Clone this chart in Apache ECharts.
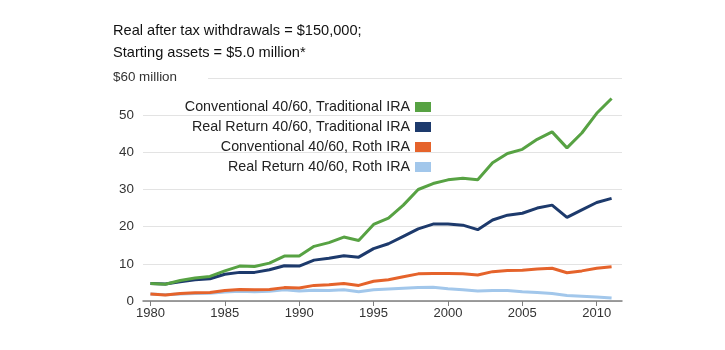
<!DOCTYPE html>
<html>
<head>
<meta charset="utf-8">
<script src="https://cdn.jsdelivr.net/npm/echarts@6/dist/echarts.min.js"></script>
<style>html,body{margin:0;padding:0;background:#fff}#c{width:725px;height:350px}</style>
</head>
<body>
<div id="c"></div>
<script>
var years = [];
for (var y = 1980; y <= 2011; y++) years.push(y);
var xTickLabels = [1980, 1985, 1990, 1995, 2000, 2005, 2010];
var seriesNames = [
  'Conventional 40/60, Traditional IRA',
  'Real Return 40/60, Traditional IRA',
  'Conventional 40/60, Roth IRA',
  'Real Return 40/60, Roth IRA'
];
var convTrad = [4.7,4.5,5.5,6.2,6.6,8.1,9.4,9.3,10.2,12.1,12.1,14.7,15.7,17.2,16.3,20.6,22.3,25.8,30.0,31.6,32.6,33.0,32.6,37.2,39.7,40.8,43.5,45.5,41.2,45.2,50.5,54.5];
var realTrad = [4.7,4.6,5.2,5.7,6.0,7.2,7.7,7.7,8.4,9.5,9.4,11.0,11.5,12.2,11.8,14.1,15.4,17.4,19.4,20.7,20.7,20.4,19.2,21.8,23.1,23.6,25.0,25.8,22.5,24.5,26.5,27.6];
var convRoth = [1.9,1.6,2.0,2.2,2.3,2.8,3.1,3.0,3.1,3.6,3.5,4.2,4.4,4.7,4.2,5.3,5.7,6.5,7.3,7.4,7.4,7.3,7.0,7.9,8.2,8.3,8.6,8.8,7.6,8.1,8.8,9.2];
var realRoth = [1.9,1.7,1.9,2.0,2.1,2.4,2.6,2.5,2.6,3.0,2.7,2.9,2.8,3.0,2.5,3.0,3.2,3.4,3.6,3.7,3.3,3.0,2.7,2.8,2.8,2.5,2.3,2.0,1.5,1.3,1.1,0.8];
var titleLines = ['Real after tax withdrawals = $150,000;', 'Starting assets = $5.0 million*'];
var yUnitLabel = '$60 million';

var colors = ['#57a243', '#1d3a6c', '#e5632b', '#a2c7eb'];
var values = [convTrad, realTrad, convRoth, realRoth];
var zs = [5, 4, 3, 2];

function pairs(arr) { return arr.map(function (v, i) { return [years[i], v]; }); }

var chart = echarts.init(document.getElementById('c'), null, { renderer: 'canvas' });
var font = 'Liberation Sans, Arial, sans-serif';
chart.setOption({
  animation: false,
  textStyle: { fontFamily: font },
  color: colors,
  grid: { left: 143, right: 103, top: 78, bottom: 49, containLabel: false },
  legend: {
    orient: 'vertical',
    align: 'right',
    right: 289,
    top: 95,
    icon: 'rect',
    itemWidth: 16,
    itemHeight: 10,
    itemGap: 6,
    textStyle: { fontSize: 14.3, color: '#222', fontFamily: font },
    data: seriesNames
  },
  graphic: [
    { type: 'text', left: 113, top: 23, style: { text: titleLines[0], font: '14.6px ' + font, fill: '#111' } },
    { type: 'text', left: 113, top: 45, style: { text: titleLines[1], font: '14.6px ' + font, fill: '#111' } },
    { type: 'rect', left: 140, top: 73, shape: { width: 68, height: 10 }, style: { fill: '#fff' }, z: 10 },
    { type: 'text', left: 113, top: 71, z: 11, style: { text: yUnitLabel, font: '13.4px ' + font, fill: '#333' } }
  ],
  xAxis: {
    type: 'value',
    min: 1979.5,
    max: 2011.7,
    axisLine: { show: true, lineStyle: { color: '#7f7f7f', width: 1.5 } },
    axisTick: { show: true, customValues: xTickLabels, length: 5, lineStyle: { color: '#7f7f7f' } },
    axisLabel: { customValues: xTickLabels, fontSize: 13, color: '#333', margin: 6, formatter: function (v) { return String(v); } },
    splitLine: { show: false }
  },
  yAxis: {
    type: 'value',
    min: 0,
    max: 60,
    interval: 10,
    axisLine: { show: false },
    axisTick: { show: false },
    axisLabel: { fontSize: 13.4, color: '#333', margin: 9, formatter: function (v) { return v === 60 ? '' : String(v); } },
    splitLine: { show: true, lineStyle: { color: '#e3e3e3', width: 1 } }
  },
  series: seriesNames.map(function (n, i) {
    return {
      name: n,
      type: 'line',
      data: pairs(values[i]),
      showSymbol: false,
      symbol: 'none',
      z: zs[i],
      lineStyle: { width: 3, color: colors[i] },
      itemStyle: { color: colors[i] }
    };
  })
});
</script>
</body>
</html>
